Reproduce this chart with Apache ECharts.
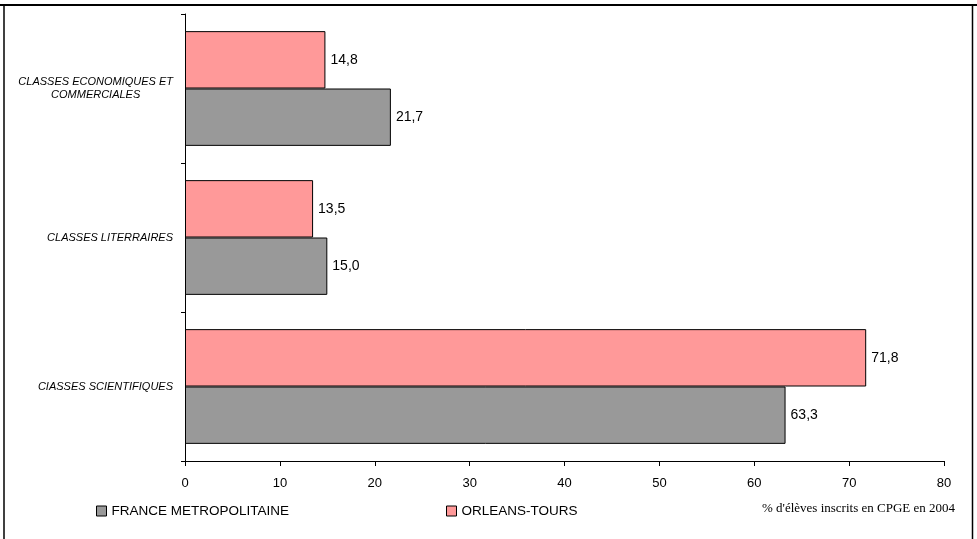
<!DOCTYPE html>
<html><head><meta charset="utf-8">
<script src="https://cdn.jsdelivr.net/npm/echarts@6/dist/echarts.min.js"></script>
<style>html,body{margin:0;padding:0;background:#fff}#c{width:977px;height:539px}</style>
</head><body><div id="c"></div>
<script>
const categories = ['CIASSES SCIENTIFIQUES', 'CLASSES LITERRAIRES', 'CLASSES ECONOMIQUES ET\nCOMMERCIALES'];
const franceValues = [63.3, 15.0, 21.7];
const orleansValues = [71.8, 13.5, 14.8];
const xTicks = [0, 10, 20, 30, 40, 50, 60, 70, 80];
const seriesNames = ['FRANCE METROPOLITAINE', 'ORLEANS-TOURS'];
const note = "% d'élèves inscrits en CPGE en 2004";

const chart = echarts.init(document.getElementById('c'));
const fmt = p => p.value.toFixed(1).replace('.', ',');
const labelStyle = {show: true, position: 'right', distance: 5, formatter: fmt, color: '#000', fontFamily: 'Liberation Sans, Arial', fontSize: 14};
chart.setOption({
  animation: false,
  grid: {left: 185, right: 33, top: 14, bottom: 78, containLabel: false},
  xAxis: {
    type: 'value', min: xTicks[0], max: xTicks[xTicks.length - 1], interval: 10,
    axisLine: {show: true, lineStyle: {color: '#000', width: 1}},
    axisTick: {show: true, length: 5, lineStyle: {color: '#000'}},
    splitLine: {show: false},
    axisLabel: {color: '#000', fontFamily: 'Liberation Sans, Arial', fontSize: 13, margin: 16}
  },
  yAxis: {
    type: 'category', data: categories,
    axisLine: {show: true, lineStyle: {color: '#000', width: 1}},
    axisTick: {show: true, length: 4, lineStyle: {color: '#000'}},
    axisLabel: {
      color: '#000', margin: 12, align: 'right',
      formatter: v => v.split('\n').map(s => '{c|' + s + '}').join('\n'),
      rich: {c: {align: 'center', fontFamily: 'Liberation Sans, Arial', fontSize: 11, fontStyle: 'italic', lineHeight: 13, color: '#000'}}
    }
  },
  legend: [
    {data: [seriesNames[0]], left: 91, top: 499, itemWidth: 10, itemHeight: 10, icon: 'rect', itemGap: 0,
     itemStyle: {borderColor: '#000', borderWidth: 1},
     textStyle: {fontFamily: 'Liberation Sans, Arial', fontSize: 13.5, color: '#000'}},
    {data: [seriesNames[1]], left: 441, top: 499, itemWidth: 10, itemHeight: 10, icon: 'rect', itemGap: 0,
     itemStyle: {borderColor: '#000', borderWidth: 1},
     textStyle: {fontFamily: 'Liberation Sans, Arial', fontSize: 13.5, color: '#000'}}
  ],
  series: [
    {name: seriesNames[1], type: 'bar', data: orleansValues, barGap: '0%', barCategoryGap: '23%',
     itemStyle: {color: '#FF9999', borderColor: '#000', borderWidth: 1}, label: labelStyle},
    {name: seriesNames[0], type: 'bar', data: franceValues, barGap: '0%', barCategoryGap: '23%',
     itemStyle: {color: '#999999', borderColor: '#000', borderWidth: 1}, label: labelStyle}
  ],
  graphic: [
    {type: 'line', shape: {x1: 0, y1: 5, x2: 977, y2: 5}, style: {stroke: '#000', lineWidth: 2}},
    {type: 'line', shape: {x1: 4, y1: 5, x2: 4, y2: 539}, style: {stroke: '#000', lineWidth: 1.5}},
    {type: 'line', shape: {x1: 972.5, y1: 5, x2: 972.5, y2: 539}, style: {stroke: '#000', lineWidth: 1.5}},
    {type: 'text', right: 22, top: 502, style: {text: note, fill: '#000', font: '13px "Liberation Serif", "Times New Roman", serif'}}
  ]
});
</script></body></html>
